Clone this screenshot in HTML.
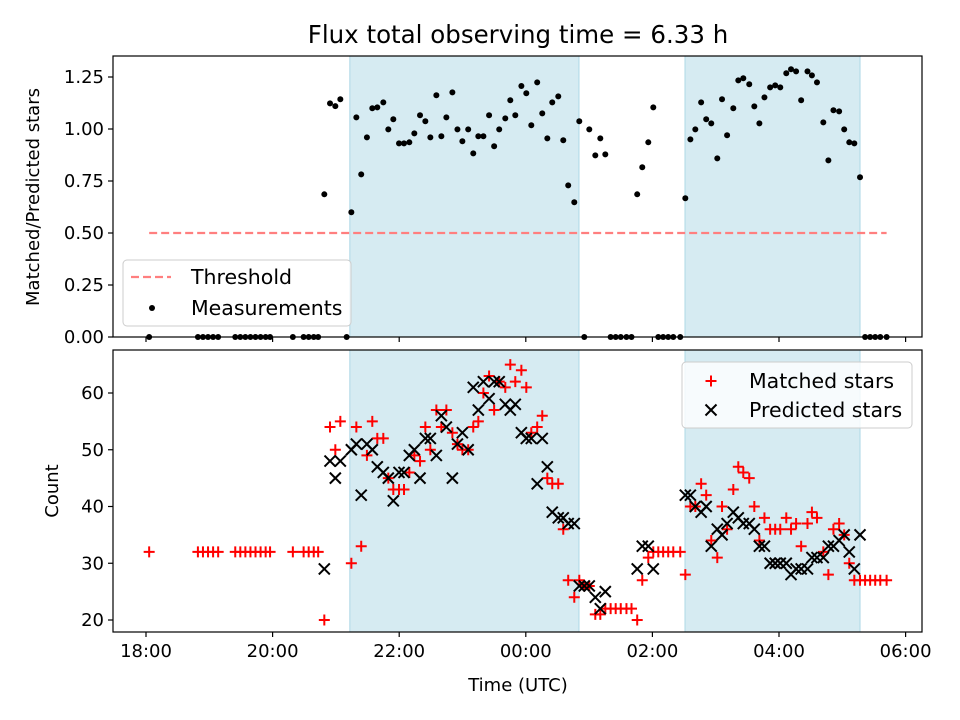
<!DOCTYPE html>
<html><head><meta charset="utf-8"><style>
html,body{margin:0;padding:0;background:#fff;}
svg{display:block;font-family:"DejaVu Sans","Liberation Sans",sans-serif;}
</style></head><body>
<svg id="fig" width="960" height="720" viewBox="0 0 960 720" xmlns="http://www.w3.org/2000/svg">
<rect width="960" height="720" fill="#fff"/>
<text x="518" y="43" font-size="24.5" text-anchor="middle">Flux total observing time = 6.33 h</text>
<g id="topPanel"></g>
<g id="botPanel"></g>
<text x="518" y="691" font-size="18" text-anchor="middle">Time (UTC)</text>
<text transform="translate(39,197) rotate(-90)" font-size="18" text-anchor="middle">Matched/Predicted stars</text>
<text transform="translate(58,491) rotate(-90)" font-size="18" text-anchor="middle">Count</text>
</svg>
<script>
// hours after 18:00 UTC
const times = [0.05,0.82,0.90,0.98,1.06,1.14,1.41,1.49,1.57,1.65,1.73,1.81,1.89,1.96,2.32,2.49,2.57,2.65,2.72,3.17,
2.817,2.907,2.991,3.07,3.244,3.323,3.40,3.49,3.575,3.654,3.749,3.828,3.907,3.997,4.076,4.16,4.239,4.329,4.413,4.492,4.587,4.666,4.745,4.84,4.92,4.998,5.09,5.17,5.25,5.33,5.42,5.50,5.58,5.676,5.755,5.834,5.93,6.008,
6.087,6.18,6.26,6.34,6.418,6.513,6.592,6.67,6.766,6.845,6.924,7.003,7.098,7.177,7.256,
7.34,7.42,7.50,7.59,7.67,7.76,7.84,7.935,8.014,8.093,8.17,8.25,8.33,8.44,
8.52,8.60,8.678,8.77,8.85,8.93,9.025,9.10,9.18,9.278,9.357,9.436,9.53,9.61,9.69,9.77,9.86,9.94,10.02,10.115,10.19,10.27,10.35,10.45,10.52,10.60,10.70,10.78,10.86,10.95,11.03,11.11,11.19,11.28,
11.36,11.44,11.52,11.60,11.70];
const ratio = [0,0,0,0,0,0,0,0,0,0,0,0,0,0,0,0,0,0,0,0,
0.686,1.123,1.11,1.143,0.60,1.056,0.782,0.96,1.10,1.104,1.128,0.998,1.047,0.931,0.931,0.936,0.979,1.066,1.037,0.96,1.162,0.965,1.056,1.176,0.998,0.941,0.998,0.883,0.965,0.965,1.066,0.917,0.998,1.051,1.138,1.066,1.207,1.172,
1.018,1.224,1.075,0.955,1.128,1.157,0.946,0.729,0.648,1.037,0,0.998,0.873,0.955,0.878,
0,0,0,0,0,0.686,0.816,0.936,1.104,0,0,0,0,0,
0.667,0.95,0.998,1.128,1.047,1.027,0.859,1.143,0.97,1.10,1.234,1.244,1.215,1.109,1.027,1.152,1.20,1.21,1.20,1.268,1.287,1.277,1.138,1.277,1.258,1.224,1.032,0.849,1.09,1.085,0.998,0.936,0.931,0.768,
0,0,0,0,0];
const matched = [32,32,32,32,32,32,32,32,32,32,32,32,32,32,32,32,32,32,32,null,
20,54,50,55,30,54,33,49,55,52,52,45,43,43,43,46,49,48,54,50,57,54,57,53,51,50,50,54,55,60,63,57,62,61,65,62,64,61,
53,54,56,45,44,44,36,27,24,27,26,26,21,21,22,
22,22,22,22,22,20,27,31,32,32,32,32,32,32,
28,40,40,44,42,34,31,40,36,43,47,46,45,40,34,38,36,36,36,38,36,37,33,37,39,38,32,28,36,37,35,30,27,27,
27,27,27,27,27];
const predicted = [null,null,null,null,null,null,null,null,null,null,null,null,null,null,null,null,null,null,null,null,
29,48,45,48,50,51,42,51,50,47,46,45,41,46,46,49,50,45,52,52,49,56,54,45,51,53,50,61,57,62,59,62,62,58,57,58,53,52,
52,44,52,47,39,38,38,37,37,26,26,26,24,22,25,
null,null,null,null,null,29,33,33,29,null,null,null,null,null,
42,42,40,39,40,33,36,35,37,39,38,37,37,36,33,33,30,30,30,30,28,29,29,29,31,31,31,33,33,34,35,32,29,35,
null,null,null,null,null];
const threshold = 0.5;
const shadeSpans = [[3.22,6.84],[8.515,11.28]];
const xTicks = [0,2,4,6,8,10,12];
const xTickLabels = ["18:00","20:00","22:00","00:00","02:00","04:00","06:00"];
const topTicks = [0,0.25,0.5,0.75,1.0,1.25];
const topTickLabels = ["0.00","0.25","0.50","0.75","1.00","1.25"];
const botTicks = [20,30,40,50,60];
const botTickLabels = ["20","30","40","50","60"];

const NS="http://www.w3.org/2000/svg";
const L=113,R=922;
const xs = h => 146 + h*63.3;
const yTop = v => 337 - v*208;
const yBot = v => 620 - (v-20)*5.675;
function mk(tag, attrs, parent){const e=document.createElementNS(NS,tag);for(const k in attrs)e.setAttribute(k,attrs[k]);parent.appendChild(e);return e;}

function panel(g, T, B, yf, ticks, labels, isBottom){
  for(const s of shadeSpans){
    const r=mk('rect',{x:xs(s[0]),y:T,width:xs(s[1])-xs(s[0]),height:B-T,fill:'#add8e6','fill-opacity':0.5,stroke:'#add8e6'},g);
    
    
  }
  ticks.forEach((t,i)=>{
    const yy=yf(t);
    const tk=mk('line',{x1:L-5,x2:L,y1:yy,y2:yy,stroke:'#000','stroke-width':1.2},g);
    
    
    const tx=mk('text',{x:L-9,y:yy+6,'font-size':18,'text-anchor':'end'},g);
    tx.textContent=labels[i];
    
    
  });
  xTicks.forEach((t,i)=>{
    const xx=xs(t);
    if(xx<L||xx>R)return;
    const tk=mk('line',{x1:xx,x2:xx,y1:B,y2:B+5,stroke:'#000','stroke-width':1.2},g);
    
    
    if(isBottom){
      const tx=mk('text',{x:xx,y:B+25,'font-size':18,'text-anchor':'middle'},g);
      tx.textContent=xTickLabels[i];
      
      
    }
  });
}

const topG=document.getElementById('topPanel');
panel(topG,56,337,yTop,topTicks,topTickLabels,false);
const th=mk('line',{x1:xs(times[0]),x2:xs(times[times.length-1]),y1:yTop(threshold),y2:yTop(threshold),stroke:'#ff7f7f','stroke-width':2.2,'stroke-dasharray':'8,4'},topG);


times.forEach((t,i)=>{
  const c=mk('circle',{cx:xs(t),cy:yTop(ratio[i]),r:3,fill:'#000'},topG);
  
  
});
const f1=mk('rect',{x:L,y:56,width:R-L,height:281,fill:'none',stroke:'#000','stroke-width':1.2},topG);



const botG=document.getElementById('botPanel');
panel(botG,350,632,yBot,botTicks,botTickLabels,true);
times.forEach((t,i)=>{
  if(matched[i]==null)return;
  const cx=xs(t),cy=yBot(matched[i]);
  const p=mk('path',{d:`M${cx-5.5},${cy}H${cx+5.5}M${cx},${cy-5.5}V${cy+5.5}`,stroke:'#f00','stroke-width':2,fill:'none'},botG);
  
  
});
times.forEach((t,i)=>{
  if(predicted[i]==null)return;
  const cx=xs(t),cy=yBot(predicted[i]);
  const p=mk('path',{d:`M${cx-5.5},${cy-5.5}L${cx+5.5},${cy+5.5}M${cx-5.5},${cy+5.5}L${cx+5.5},${cy-5.5}`,stroke:'#000','stroke-width':2,fill:'none'},botG);
  
  
});
const f2=mk('rect',{x:L,y:350,width:R-L,height:282,fill:'none',stroke:'#000','stroke-width':1.2},botG);



const svg=document.getElementById('fig');
const g1=document.createElementNS(NS,'g');


g1.innerHTML='<rect x="123" y="260" width="228" height="66" rx="4" fill="#fff" fill-opacity="0.8" stroke="#ccc"/>'+
'<line x1="131" x2="171" y1="277" y2="277" stroke="#ff7f7f" stroke-width="2.2" stroke-dasharray="8,4"/>'+
'<text x="191" y="284" font-size="20.5">Threshold</text>'+
'<circle cx="152" cy="308" r="3" fill="#000"/>'+
'<text x="191" y="315" font-size="20.5">Measurements</text>';
svg.appendChild(g1);
const g2=document.createElementNS(NS,'g');


g2.innerHTML='<rect x="682" y="362" width="230" height="66" rx="4" fill="#fff" fill-opacity="0.8" stroke="#ccc"/>'+
'<path d="M705.5,381H716.5M711,375.5V386.5" stroke="#f00" stroke-width="2"/>'+
'<text x="749" y="388" font-size="20.5">Matched stars</text>'+
'<path d="M705.5,404.5L716.5,415.5M705.5,415.5L716.5,404.5" stroke="#000" stroke-width="2"/>'+
'<text x="749" y="417" font-size="20.5">Predicted stars</text>';
svg.appendChild(g2);
</script>
</body></html>
